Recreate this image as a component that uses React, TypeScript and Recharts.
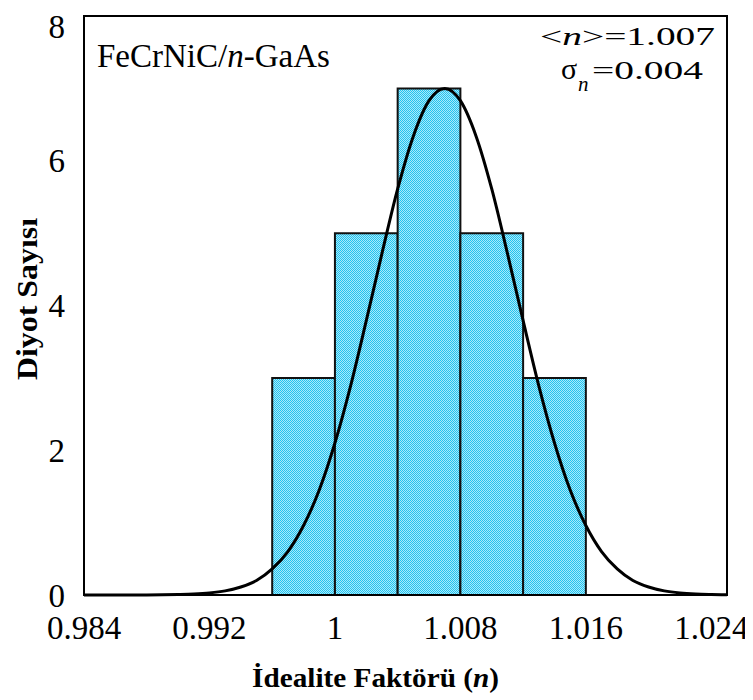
import {
  ComposedChart,
  Line,
  ReferenceArea,
  XAxis,
  YAxis,
} from "recharts";

// histogram bins (idealite factor)
const binStart = [0.996, 1.0, 1.004, 1.008, 1.012];
const binEnd = [1.0, 1.004, 1.008, 1.012, 1.016];
const binCount = [3, 5, 7, 5, 3];

// fitted gaussian curve, read point by point
const curveN = [
  0.984, 0.985, 0.986, 0.987, 0.988, 0.989, 0.99, 0.991, 0.992, 0.993, 0.994,
  0.995, 0.996, 0.997, 0.998, 0.999, 1.0, 1.001, 1.002, 1.003, 1.004, 1.005,
  1.006, 1.007, 1.008, 1.009, 1.01, 1.011, 1.012, 1.013, 1.014, 1.015, 1.016,
  1.017, 1.018, 1.019, 1.02, 1.021, 1.022, 1.023, 1.024, 1.025,
];
const curveCount = [
  0, 0, 0, 0.0004, 0.001, 0.002, 0.006, 0.013, 0.028, 0.057, 0.11, 0.2, 0.36,
  0.6, 0.96, 1.45, 2.1, 2.89, 3.79, 4.72, 5.61, 6.34, 6.83, 7.0, 6.83, 6.34,
  5.61, 4.72, 3.79, 2.89, 2.1, 1.45, 0.96, 0.6, 0.36, 0.2, 0.11, 0.057, 0.028,
  0.013, 0.006, 0.002,
];

const xTicks = [0.984, 0.992, 1, 1.008, 1.016, 1.024];
const yTicks = [0, 2, 4, 6, 8];

const data = curveN.map((n, i) => ({ n, count: curveCount[i] }));

const W = 745;
const H = 692;
const SERIF = "Liberation Serif";

export default function App() {
  return (
    <div style={{ position: "relative", width: W, height: H }}>
      <ComposedChart
        width={W}
        height={H}
        data={data}
        margin={{ top: 8, right: 26, bottom: 0, left: 0 }}
      >
        <defs>
          {/* dotted cyan fill of the bars */}
          <pattern id="dots" width="2" height="2" patternUnits="userSpaceOnUse">
            <rect width="2" height="2" fill="#a9e9fa" />
            <rect width="1" height="1" fill="#22c3ef" />
            <rect x="1" y="1" width="1" height="1" fill="#22c3ef" />
          </pattern>
        </defs>
        <XAxis
          type="number"
          dataKey="n"
          domain={[0.984, 1.025]}
          ticks={xTicks}
          allowDataOverflow
          axisLine={false}
          tickLine={false}
          tickSize={0}
          tickMargin={21}
          height={105}
          tick={{ fill: "#000", fontSize: 33, fontFamily: SERIF }}
        />
        <YAxis
          domain={[0, 8]}
          ticks={yTicks}
          axisLine={false}
          tickLine={false}
          tickSize={0}
          tickMargin={19}
          width={76}
          tick={{ fill: "#000", fontSize: 33, fontFamily: SERIF }}
        />
        {binCount.map((c, i) => (
          <ReferenceArea
            key={i}
            x1={binStart[i]}
            x2={binEnd[i]}
            y1={0}
            y2={c}
            fill="url(#dots)"
            fillOpacity={1}
            stroke="#111"
            strokeWidth={2}
          />
        ))}
        <Line
          type="monotone"
          dataKey="count"
          stroke="#000"
          strokeWidth={3}
          dot={false}
          isAnimationActive={false}
        />
        <ReferenceArea
          x1={0.984}
          x2={1.025}
          y1={0}
          y2={8}
          fill="none"
          stroke="#000"
          strokeWidth={2}
        />
      </ComposedChart>
      <svg
        width={W}
        height={H}
        style={{ position: "absolute", left: 0, top: 0, pointerEvents: "none" }}
      >
        <text x={89} y={59} fontSize={33} fontFamily={SERIF} fill="#000">
          FeCrNiC/<tspan fontStyle="italic">n</tspan>-GaAs
        </text>
        <text
          x={532}
          y={37}
          fontSize={25}
          fontFamily={SERIF}
          fill="#000"
          textLength={175}
          lengthAdjust="spacingAndGlyphs"
        >
          &lt;<tspan fontStyle="italic">n</tspan>&gt;=1.007
        </text>
        <text x={553} y={71} fontSize={30} fontFamily={SERIF} fill="#000">
          σ
        </text>
        <text
          x={570}
          y={83}
          fontSize={21}
          fontStyle="italic"
          fontFamily={SERIF}
          fill="#000"
        >
          n
        </text>
        <text
          x={584}
          y={71}
          fontSize={26}
          fontFamily={SERIF}
          fill="#000"
          textLength={111}
          lengthAdjust="spacingAndGlyphs"
        >
          =0.004
        </text>
        <text
          x={244}
          y={679}
          fontSize={27}
          fontWeight="bold"
          fontFamily={SERIF}
          fill="#000"
          textLength={247}
          lengthAdjust="spacingAndGlyphs"
        >
          İdealite Faktörü (<tspan fontStyle="italic">n</tspan>)
        </text>
        <text
          x={29}
          y={291}
          textAnchor="middle"
          fontSize={30}
          fontWeight="bold"
          fontFamily={SERIF}
          fill="#000"
          textLength={162}
          lengthAdjust="spacingAndGlyphs"
          transform="rotate(-90 29 291)"
        >
          Diyot Sayısı
        </text>
      </svg>
    </div>
  );
}
